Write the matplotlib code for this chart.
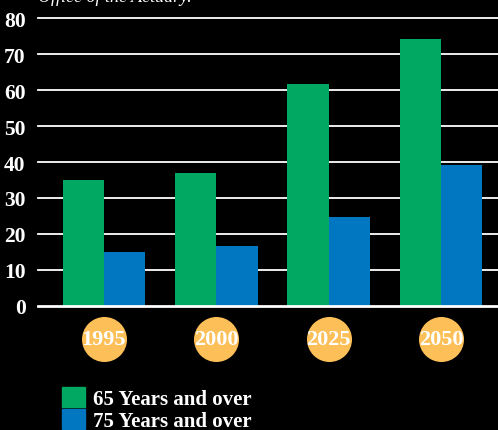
import numpy as np
import matplotlib.pyplot as plt
from matplotlib.patches import Patch
from matplotlib.transforms import blended_transform_factory

# data (percent increase / population share, by year)
years = ["1995", "2000", "2025", "2050"]
over_65 = [35, 37, 61.7, 74.2]
over_75 = [15, 16.7, 24.8, 39.2]
yticks = [0, 10, 20, 30, 40, 50, 60, 70, 80]

GREEN = "#00a862"
BLUE = "#0077c0"
GOLD = "#fdbf57"
SERIF = "Liberation Serif"

W, H = 498, 431
fig = plt.figure(figsize=(W / 100, H / 100), dpi=100, facecolor="black")
ax = fig.add_axes([38 / W, (H - 307) / H, 1 - 38 / W, 288 / H], facecolor="black")

x = np.arange(len(years))
bw = 0.368
ax.bar(x - bw / 2, over_65, bw, color=GREEN, zorder=2)
ax.bar(x + bw / 2, over_75, bw, color=BLUE, zorder=2)

ax.set_xlim(-0.586, 3.506)
ax.set_ylim(0, 80)
ax.set_yticks(yticks)
ax.set_yticklabels([str(t) for t in yticks], fontfamily=SERIF,
                   fontweight="bold", fontsize=15.5, color="white")
ax.tick_params(axis="y", length=0, pad=9)
ax.set_xticks([])
for t in yticks[1:]:
    ax.axhline(t, color="white", lw=1.3, zorder=1, clip_on=False)
ax.axhline(0, color="white", lw=2, zorder=3, clip_on=False)
for s in ax.spines.values():
    s.set_visible(False)

# year badges under each group
tr = blended_transform_factory(ax.transData, ax.transAxes)
ax.scatter(x, [-0.115] * len(x), s=1050, color=GOLD, transform=tr,
           clip_on=False, zorder=4, linewidths=0)
for xi, yr in zip(x, years):
    ax.text(xi, -0.115, yr, transform=tr, ha="center", va="center",
            color="white", fontfamily=SERIF, fontweight="bold",
            fontsize=16, zorder=5)

# cut-off source line at the top
fig.text(38 / W, 1 + 3 / H, "Office of the Actuary.", color="white",
         fontfamily=SERIF, fontstyle="italic", fontsize=13, va="center")

handles = [Patch(color=GREEN, label="65 Years and over"),
           Patch(color=BLUE, label="75 Years and over")]
leg = fig.legend(handles=handles, loc="upper left",
                 bbox_to_anchor=(47 / W, 1 - 373 / H), frameon=False,
                 prop={"family": SERIF, "weight": "bold", "size": 15},
                 handlelength=1.1, handleheight=1.1, labelspacing=0,
                 handletextpad=0.4, borderpad=0.2)
for t in leg.get_texts():
    t.set_color("white")

fig.savefig("out.png", dpi=100, facecolor="black")
